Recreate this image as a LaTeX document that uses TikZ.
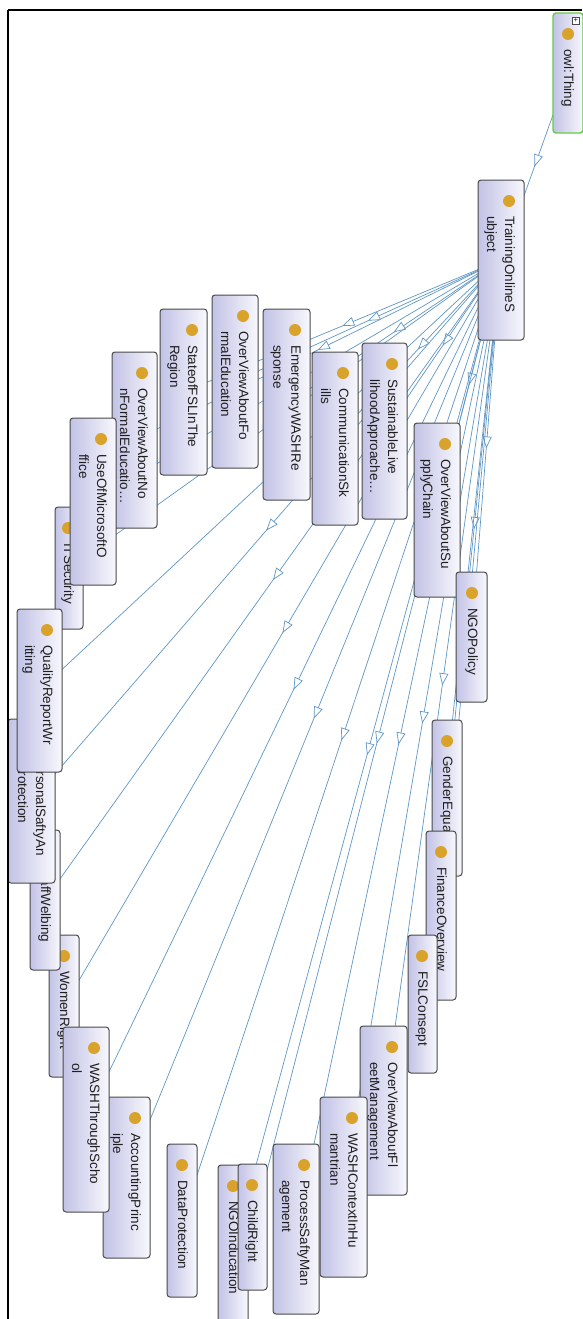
\documentclass[tikz,border=0pt]{standalone}
\usepackage{fontspec}
\setmainfont{Liberation Sans}
\usetikzlibrary{arrows.meta,decorations.markings,backgrounds}
\definecolor{lav}{HTML}{C2C2E6}
\definecolor{lavl}{HTML}{F8F8FD}
\definecolor{bord}{HTML}{4A4A4A}
\definecolor{dotc}{HTML}{D9A22B}
\definecolor{edgec}{HTML}{5F97C6}
\definecolor{owlg}{HTML}{66CC44}
\definecolor{txtc}{HTML}{1E1E1E}
\tikzset{
 box/.style={rectangle, draw=bord, line width=1pt, rounded corners=3pt, left color=lav, right color=lavl, inner sep=0pt, outer sep=0pt},
 dot/.style={circle, fill=dotc, minimum size=12pt, inner sep=0pt},
 txt/.style={inner sep=0pt, align=left, text=txtc, font=\fontsize{13.5}{18}\selectfont},
 subcl/.style={draw=edgec, line width=0.7pt, postaction={decorate}, decoration={markings, mark=at position 0.5 with {\arrow{Triangle[open, fill=white, length=12pt, width=9pt]}}}},
 frame/.style={draw=black, line width=1.6pt},
}
\newcommand\cls[7]{%
 \node[box,#7,minimum width={#4-#2},minimum height={#5-#3}] (#1) at ({(#2+#4)/2},{(#3+#5)/2}) {};
 \node[dot] (#1-d) at ({#4-15},{#3+21}) {};
 \node[txt,rotate=-90,anchor=north west] (#1-t) at ({#4-9},{#3+36}) {#6};
}
\begin{document}
\begin{tikzpicture}[x=1pt,y=-1pt]
\useasboundingbox (0,0) rectangle (582,1319);
\cls{supp}{414}{423}{460}{597}{OverViewAboutSu\\pplyChain}{}
\cls{ngop}{456}{572}{487}{702}{NGOPolicy}{}
\cls{gend}{432}{720}{462}{876}{GenderEquality}{}
\cls{fina}{426}{831}{456}{1000}{FinanceOverview}{}
\cls{fslc}{408}{935}{437}{1073}{FSLConsept}{}
\cls{flee}{360}{1026}{407}{1195}{OverViewAboutFl\\eetManagement}{}
\cls{wctx}{320}{1097}{367}{1277}{WASHContextInHu\\mantrian}{}
\cls{proc}{273}{1144}{319}{1314}{ProcessSaftyMan\\agement}{}
\cls{ngoi}{218}{1165}{248}{1335}{NGOInducation}{}
\cls{chil}{238}{1164}{267}{1290}{ChildRight}{}
\cls{data}{167}{1144}{197}{1297}{DataProtection}{}
\cls{acct}{103}{1097}{150}{1258}{AccountingPrinc\\iple}{}
\cls{wome}{49}{935}{79}{1077}{WomenRight}{}
\cls{wsch}{63}{1027}{109}{1212}{WASHThroughScho\\ol}{}
\cls{staf}{30}{830}{60}{970}{StaffWelbing}{}
\cls{pers}{8}{719}{55}{883}{PersonalSaftyAn\\dProtection}{}
\cls{itse}{55}{507}{83}{629}{ITSecurity}{}
\cls{qual}{17}{609}{62}{772}{QualityReportWr\\itting}{}
\cls{nonf}{112}{352}{157}{528}{OverViewAboutNo\\nFormalEducatio…}{}
\cls{uomo}{70}{418}{116}{585}{UseOfMicrosoftO\\ffice}{}
\cls{stfs}{160}{309}{207}{475}{StateofFSLInThe\\Region}{}
\cls{form}{212}{295}{258}{468}{OverViewAboutFo\\rmalEducation}{}
\cls{emer}{263}{309}{310}{500}{EmergencyWASHRe\\sponse}{}
\cls{comm}{312}{352}{358}{525}{CommunicationSk\\ills}{}
\cls{sust}{362}{343}{407}{519}{SustainableLive\\lihoodApproache…}{}
\cls{tos}{478}{180}{524}{340}{TrainingOnlineS\\ubject}{}
\cls{owl}{553}{13}{583}{133}{owl:Thing}{draw=owlg, line width=1.4pt}
\node[draw=bord, line width=0.5pt, fill=white, minimum size=7pt, inner sep=0pt, font=\fontsize{7}{7}\selectfont] (plus) at (576,20.5) {+};
\begin{pgfonlayer}{background}
\fill[white] (0,0) rectangle (582,1319);
\draw[subcl] (owl.center) -- (tos.center);
\foreach \c in {emer,comm,sust,supp,ngop,gend,fina,fslc,flee,wctx,proc,chil,ngoi,data,acct,wsch,wome,staf,pers,qual,itse,uomo,nonf,stfs,form}
  \draw[subcl] (tos.center) -- (\c.center);
\end{pgfonlayer}
\draw[frame] (8,10) -- (582,10);
\draw[frame] (8,10) -- (8,1319);
\end{tikzpicture}
\end{document}
